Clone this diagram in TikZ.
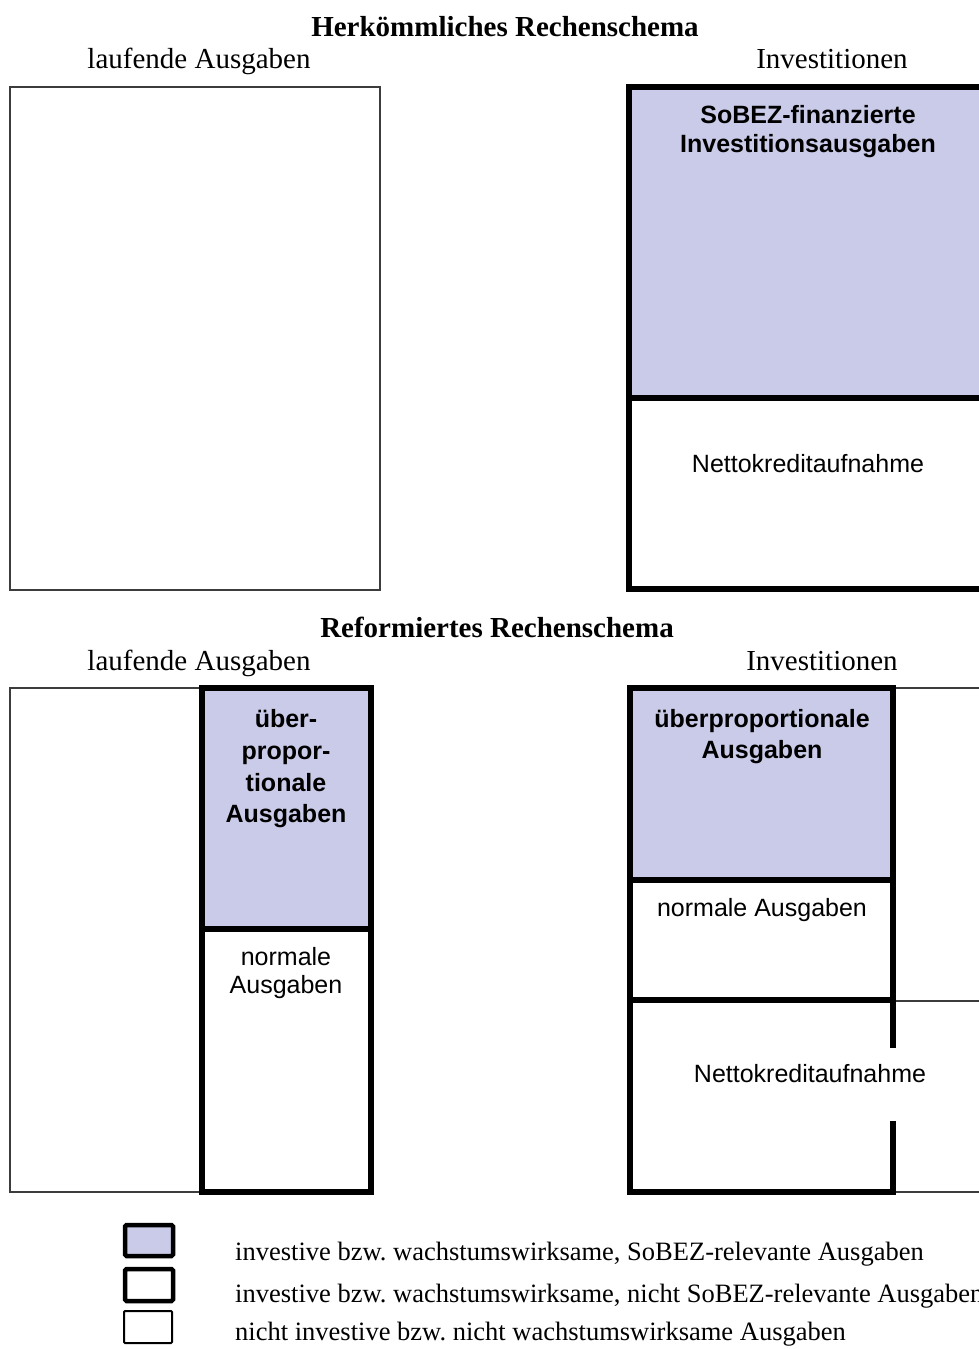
\documentclass[tikz,border=0pt]{standalone}
\usepackage{fontspec}
\setmainfont{Liberation Serif}
\setsansfont{Liberation Sans}
\definecolor{dotfill}{RGB}{202,203,232}
\definecolor{thingray}{RGB}{60,60,60}
\begin{document}
\frenchspacing
\begin{tikzpicture}[x=1pt,y=-1pt,
  heavy/.style={line width=5.5pt,draw=black,line join=miter},
  light/.style={line width=2pt,draw=thingray},
  shaded/.style={fill=dotfill,draw=none},
  heading/.style={font=\fontsize{29}{34}\selectfont\bfseries,inner sep=0pt,anchor=base},
  colhead/.style={font=\fontsize{29}{34}\selectfont,inner sep=0pt,anchor=base},
  lbl/.style={font=\sffamily\fontsize{25}{30}\selectfont,inner sep=0pt,anchor=base},
  blbl/.style={font=\sffamily\bfseries\fontsize{25}{30}\selectfont,inner sep=0pt,anchor=base},
  legtext/.style={font=\fontsize{26.5}{32}\selectfont,inner sep=0pt,anchor=base west}]
\useasboundingbox (0,0) rectangle (978,1349);
\fill[white] (0,0) rectangle (978,1349);

% ---------- Herkoemmliches Rechenschema ----------
\node[heading] (t1) at (505,36) {Herkömmliches Rechenschema};
\node[colhead] (la1) at (199,68) {laufende Ausgaben};
\node[colhead] (in1) at (832,68) {Investitionen};

\draw[light] (10,87) rectangle (380,590);

\fill[shaded] (629,87) rectangle (990,398);
\draw[heavy] (990,87) -- (629,87) -- (629,589) -- (990,589);
\draw[heavy] (629,398) -- (990,398);
\node[blbl] (sb1) at (808,123) {SoBEZ-finanzierte};
\node[blbl] (sb2) at (808,152) {Investitionsausgaben};
\node[lbl] (nk1) at (808,472) {Nettokreditaufnahme};

% ---------- Reformiertes Rechenschema ----------
\node[heading] (t2) at (497,637) {Reformiertes Rechenschema};
\node[colhead] (la2) at (199,670) {laufende Ausgaben};
\node[colhead] (in2) at (822,670) {Investitionen};

% left column
\draw[light] (202,688) -- (10,688) -- (10,1192) -- (202,1192);
\fill[shaded] (202,688) rectangle (371,929);
\draw[heavy] (202,688) rectangle (371,1192);
\draw[heavy] (202,929) -- (371,929);
\node[blbl] (ub1) at (286,727) {über-};
\node[blbl] (ub2) at (286,759) {propor-};
\node[blbl] (ub3) at (286,791) {tionale};
\node[blbl] (ub4) at (286,822) {Ausgaben};
\node[lbl] (no1) at (286,965) {normale};
\node[lbl] (no2) at (286,993) {Ausgaben};

% right column
\draw[light] (893,688) -- (990,688);
\draw[light] (893,1001) -- (990,1001);
\draw[light] (893,1192) -- (990,1192);
\fill[shaded] (630,688) rectangle (893,880);
\draw[heavy] (893,1048) -- (893,688) -- (630,688) -- (630,1192) -- (893,1192) -- (893,1121);
\draw[heavy] (630,880) -- (893,880);
\draw[heavy] (630,1000) -- (893,1000);
\node[blbl] (up1) at (762,727) {überproportionale};
\node[blbl] (up2) at (762,758) {Ausgaben};
\node[lbl] (nr1) at (762,916) {normale Ausgaben};
\node[lbl] (nk2) at (810,1082) {Nettokreditaufnahme};

% ---------- Legende ----------
\fill[shaded] (125,1225) rectangle (173,1256);
\draw[line width=4.5pt,rounded corners=1.5pt] (125,1225) rectangle (173,1256);
\draw[line width=4.5pt,rounded corners=1.5pt] (125,1269) rectangle (173,1301);
\draw[line width=2pt,rounded corners=1pt] (124,1311) rectangle (172,1343);
\node[legtext] (lg1) at (235,1260) {investive bzw. wachstumswirksame, SoBEZ-relevante Ausgaben};
\node[legtext] (lg2) at (235,1302) {investive bzw. wachstumswirksame, nicht SoBEZ-relevante Ausgaben};
\node[legtext] (lg3) at (235,1340) {nicht investive bzw. nicht wachstumswirksame Ausgaben};
\end{tikzpicture}
\end{document}
